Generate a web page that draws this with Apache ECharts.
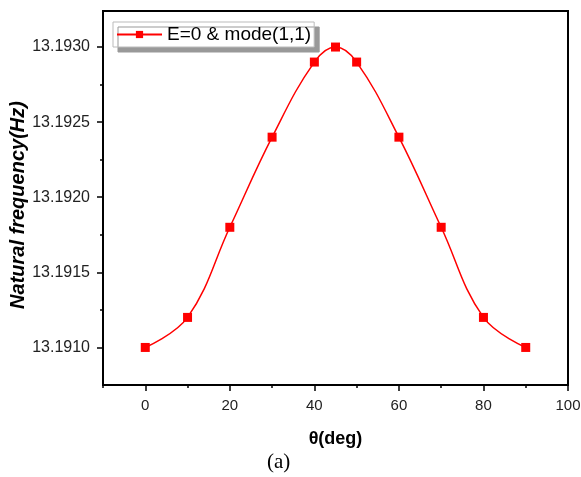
<!DOCTYPE html>
<html><head><meta charset="utf-8">
<script src="https://cdn.jsdelivr.net/npm/echarts@6/dist/echarts.min.js"></script>
<style>html,body{margin:0;padding:0;background:#fff}#c{width:581px;height:477px}</style>
</head><body><div id="c"></div>
<script>
const theta = [0, 10, 20, 30, 40, 45, 50, 60, 70, 80, 90];
const freq = [13.1910, 13.1912, 13.1918, 13.1924, 13.1929, 13.1930, 13.1929, 13.1924, 13.1918, 13.1912, 13.1910];
const xMajor = [0, 20, 40, 60, 80, 100];
const xMinor = [-10, 10, 30, 50, 70, 90];
const yMajor = [13.1910, 13.1915, 13.1920, 13.1925, 13.1930];
const yMinor = [13.19125, 13.19175, 13.19225, 13.19275];
const seriesName = 'E=0 & mode(1,1)';
const xTitle = 'θ(deg)';
const yTitle = 'Natural frequency(Hz)';
const caption = '(a)';

const chart = echarts.init(document.getElementById('c'));
const font = 'Arial, "Liberation Sans", sans-serif';
const xMin = -10, xMax = 100, yMin = 13.19075, yMax = 13.19324;
chart.setOption({
  animation: false,
  backgroundColor: '#fff',
  grid: {left: 103, right: 13, top: 11, bottom: 92, containLabel: false, outerBoundsMode: 'none',
    show: true, borderColor: '#000', borderWidth: 2, backgroundColor: 'transparent'},
  legend: {
    left: 113, top: 22, padding: [3, 3, 3, 3],
    backgroundColor: '#fff', borderColor: '#bbb', borderWidth: 1,
    shadowColor: '#999', shadowOffsetX: 5, shadowOffsetY: 5, shadowBlur: 0,
    itemWidth: 45, itemHeight: 9, itemGap: 5,
    textStyle: {fontFamily: font, fontSize: 19, color: '#000'},
    data: [seriesName]
  },
  xAxis: [{
    type: 'value', min: xMin, max: xMax,
    name: xTitle, nameLocation: 'middle', nameGap: 45, nameMoveOverlap: false,
    nameTextStyle: {fontFamily: font, fontSize: 18, fontWeight: 'bold', color: '#000'},
    axisLine: {show: true, onZero: false, lineStyle: {color: '#000', width: 2}},
    axisTick: {show: true, length: 6, lineStyle: {color: '#000', width: 1.5}, customValues: xMajor},
    axisLabel: {fontFamily: font, fontSize: 15, color: '#222', margin: 13, customValues: xMajor, hideOverlap: false},
    splitLine: {show: false}
  }, {
    type: 'value', min: xMin, max: xMax, position: 'bottom',
    axisLine: {show: false, onZero: false},
    axisTick: {show: true, length: 3, lineStyle: {color: '#000', width: 1.5}, customValues: xMinor},
    axisLabel: {show: false},
    splitLine: {show: false}
  }],
  yAxis: [{
    type: 'value', min: yMin, max: yMax,
    axisLine: {show: true, onZero: false, lineStyle: {color: '#000', width: 2}},
    axisTick: {show: true, length: 6, lineStyle: {color: '#000', width: 1.5}, customValues: yMajor},
    axisLabel: {fontFamily: font, fontSize: 16, color: '#222', margin: 13, customValues: yMajor,
      formatter: v => Number(v).toFixed(4)},
    splitLine: {show: false}
  }, {
    type: 'value', min: yMin, max: yMax, position: 'left',
    axisLine: {show: false, onZero: false},
    axisTick: {show: true, length: 3, lineStyle: {color: '#000', width: 1.5}, customValues: yMinor},
    axisLabel: {show: false},
    splitLine: {show: false}
  }],
  series: [{
    name: seriesName, type: 'line', xAxisIndex: 0, yAxisIndex: 0,
    data: theta.map((t, i) => [t, freq[i]]),
    smooth: 0.4,
    symbol: 'rect', symbolSize: 9,
    lineStyle: {color: '#ff0000', width: 1.5},
    itemStyle: {color: '#ff0000'}
  }],
  graphic: [{
    type: 'text', x: 18, y: 205, rotation: Math.PI / 2,
    style: {text: yTitle, font: 'italic bold 20px Arial, "Liberation Sans", sans-serif', fill: '#000',
      align: 'center', verticalAlign: 'middle'}
  }, {
    type: 'text', left: 267, top: 452,
    style: {text: caption, font: '21px "Liberation Serif", "DejaVu Serif", serif', fill: '#000'}
  }]
});
</script></body></html>
